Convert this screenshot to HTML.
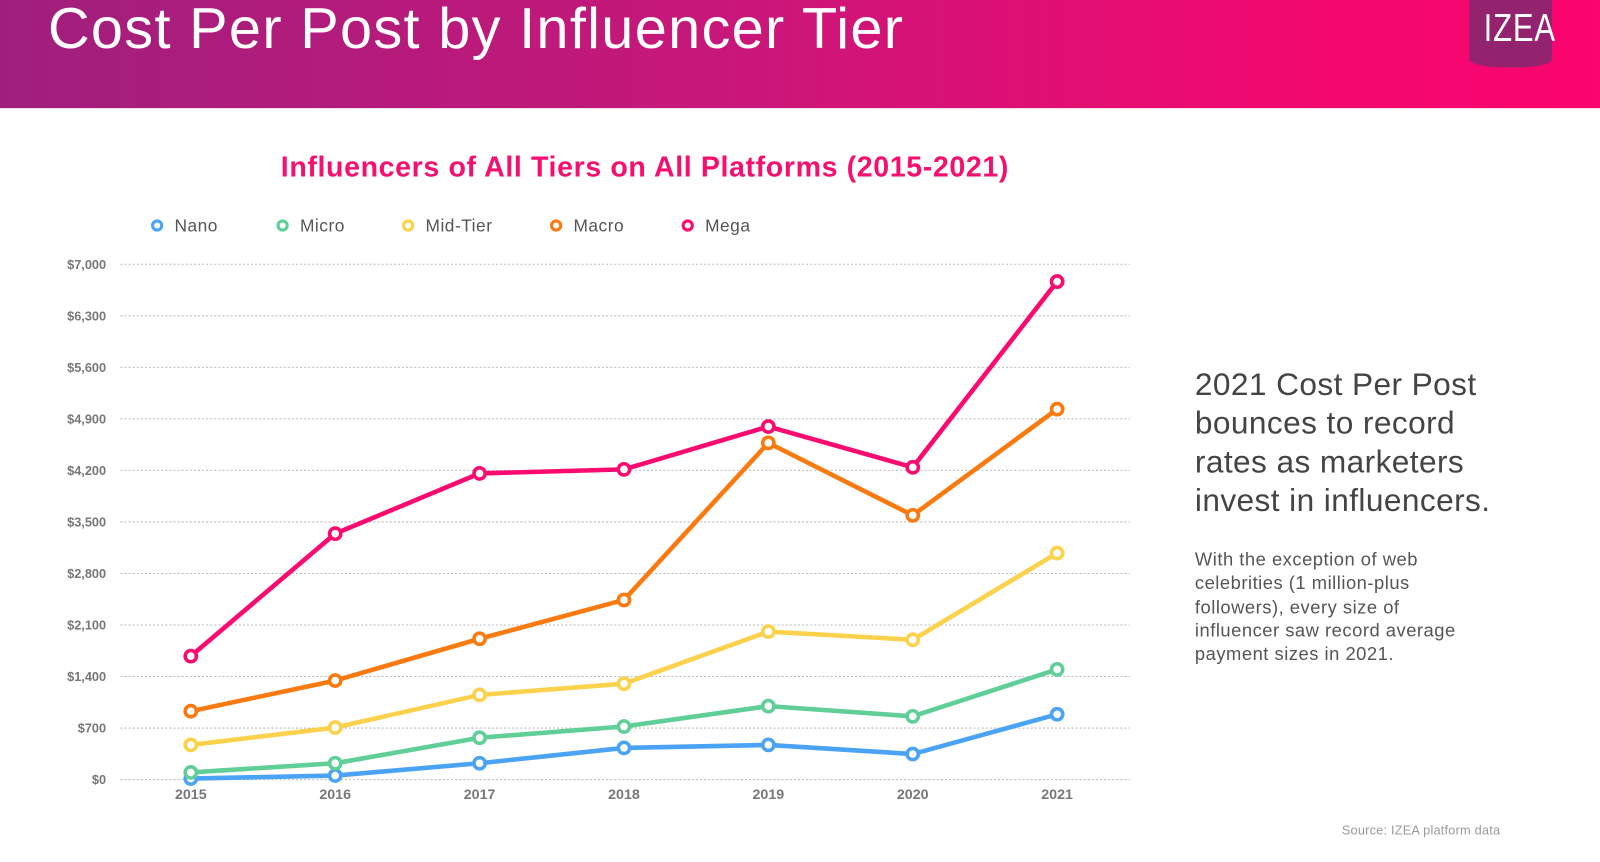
<!DOCTYPE html>
<html><head><meta charset="utf-8">
<style>
html,body{margin:0;padding:0;width:1600px;height:862px;overflow:hidden;background:#fff;font-family:"Liberation Sans",sans-serif}
#wrap{position:absolute;left:0;top:0;width:1568px;height:845px;transform:scale(1.0204);transform-origin:0 0}
#hdr{position:absolute;left:0;top:0;width:1568px;height:106px;background:linear-gradient(90deg,#a01f7d 0%,#c8177a 45%,#f0096f 80%,#fb0470 100%)}
#title{position:absolute;left:47px;top:-5px;color:#fff;font-size:56.5px;letter-spacing:1.3px}
#logo{position:absolute;left:1440px;top:0;width:81px;height:66px;background:#93236f;border-radius:0 0 40% 40%/0 0 8px 8px}
#logo span{position:absolute;left:14px;top:7px;color:#fff;font-size:38px;transform:scaleX(0.8);transform-origin:0 0;letter-spacing:1px}
#right1{position:absolute;left:1171px;top:358px;font-size:31px;line-height:38px;color:#444;letter-spacing:0.4px}
#right2{position:absolute;left:1171px;top:537px;font-size:18px;line-height:23.3px;color:#555;letter-spacing:0.5px}
#src{position:absolute;left:1315px;top:807px;font-size:12.5px;color:#999;letter-spacing:0.2px}
</style></head><body>
<div id="wrap">
<div id="hdr">
<div id="title">Cost Per Post by Influencer Tier</div>
<div id="logo"><span>IZEA</span></div>
</div>
<div id="right1">2021 Cost Per Post<br>bounces to record<br>rates as marketers<br>invest in influencers.</div>
<div id="right2">With the exception of web<br>celebrities (1 million-plus<br>followers), every size of<br>influencer saw record average<br>payment sizes in 2021.</div>
<div id="src">Source: IZEA platform data</div>
<svg id="chart" width="1568" height="845" style="position:absolute;left:0;top:0"></svg>
</div>
<script>
const years=["2015","2016","2017","2018","2019","2020","2021"];
const yTicks=[0,700,1400,2100,2800,3500,4200,4900,5600,6300,7000];
const seriesNames=["Nano","Micro","Mid-Tier","Macro","Mega"];
const nano=[14,55,222,430,471,347,887];
const micro=[97,222,568,721,998,859,1497];
const midTier=[471,707,1150,1303,2010,1899,3077];
const macro=[929,1345,1913,2440,4574,3590,5032];
const mega=[1677,3341,4159,4214,4796,4242,6765];
const seriesVals=[nano,micro,midTier,macro,mega];
const colors=["#4aa3f5","#5fcf97","#fcd14b","#fb7a10","#fb0a70"];
const NS="http://www.w3.org/2000/svg";
const svg=document.getElementById('chart');
const x=i=>187+i*(1036-187)/6;
const y=v=>764-v*(764-259)/7000;
function mk(t,a){const e=document.createElementNS(NS,t);for(const k in a)e.setAttribute(k,a[k]);svg.appendChild(e);return e;}
let t=mk('text',{x:632,y:173,'text-anchor':'middle','font-size':28,'font-weight':'bold',fill:'#f5106f','letter-spacing':'0.6'});
t.textContent="Influencers of All Tiers on All Platforms (2015-2021)";


yTicks.forEach(v=>{
 const l=mk('line',{x1:118,x2:1107,y1:y(v),y2:y(v),stroke:'#bbb','stroke-dasharray':'2,2','stroke-width':1});
 
 
 const tx=mk('text',{x:104,y:y(v)+4.5,'text-anchor':'end','font-size':12.5,'font-weight':'bold',fill:'#777'});
 tx.textContent='$'+v.toLocaleString('en-US');
 
 
});
years.forEach((yr,i)=>{
 const tx=mk('text',{x:x(i),y:783,'text-anchor':'middle','font-size':14,'font-weight':'bold',fill:'#777'});
 tx.textContent=yr;
 
 
});
const legX=[154,277,400,545,674];
seriesNames.forEach((n,s)=>{
 const c=mk('circle',{cx:legX[s],cy:221,r:4.5,fill:'#fff',stroke:colors[s],'stroke-width':3});
 
 
 const tx=mk('text',{x:legX[s]+17,y:227,'font-size':17,fill:'#555','letter-spacing':'0.5'});
 tx.textContent=n;
 
 
});
seriesVals.forEach((vals,s)=>{
 const p=mk('polyline',{points:vals.map((v,i)=>x(i)+','+y(v)).join(' '),fill:'none',stroke:colors[s],'stroke-width':4.5,'stroke-linejoin':'round'});
 
 
 vals.forEach((v,i)=>{
  const c=mk('circle',{cx:x(i),cy:y(v),r:5.5,fill:'#fff',stroke:colors[s],'stroke-width':3.5});
  
  
 });
});
</script>
</body></html>
